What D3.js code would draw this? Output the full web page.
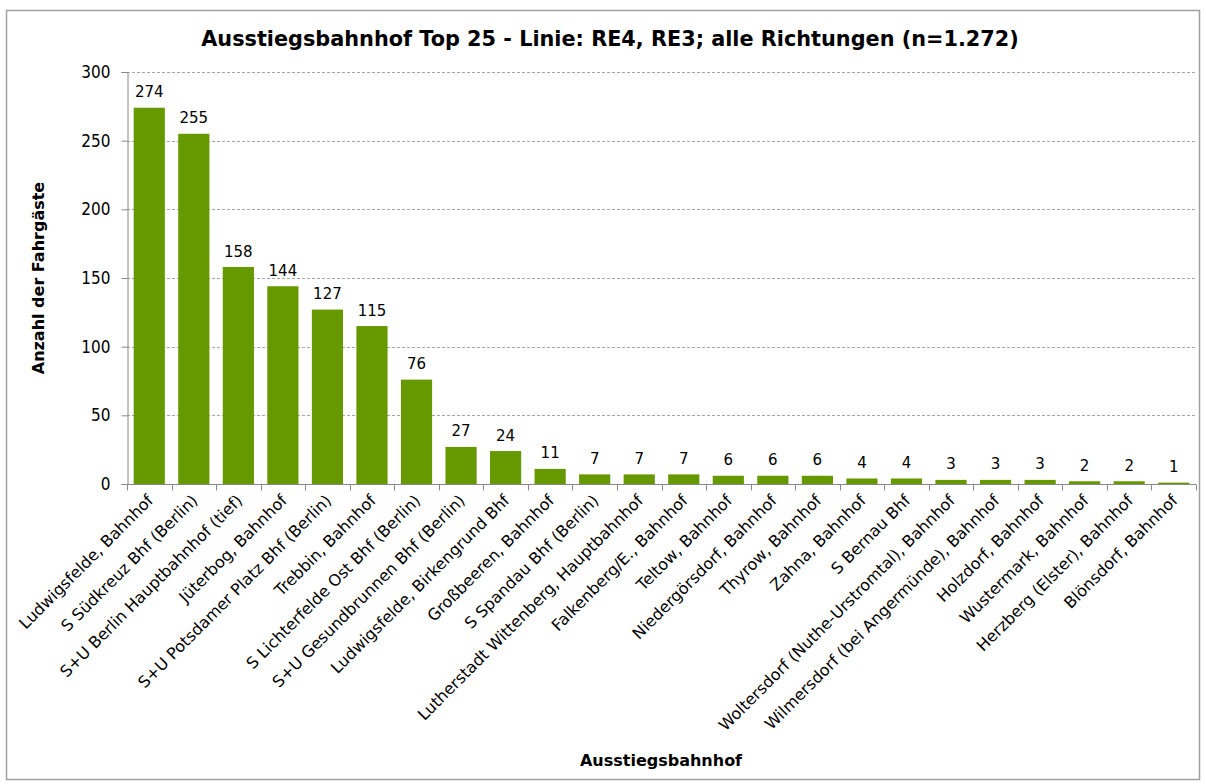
<!DOCTYPE html>
<html>
<head>
<meta charset="utf-8">
<script src="https://cdn.jsdelivr.net/npm/d3@7"></script>
<style>
  body { margin: 0; background: #fff; }
  svg text { font-family: "DejaVu Sans", sans-serif; fill: #000; }
</style>
</head>
<body>
<svg id="chart" width="1206" height="784"></svg>
<script>
const stations = [
  "Ludwigsfelde, Bahnhof", "S Südkreuz Bhf (Berlin)", "S+U Berlin Hauptbahnhof (tief)",
  "Jüterbog, Bahnhof", "S+U Potsdamer Platz Bhf (Berlin)", "Trebbin, Bahnhof",
  "S Lichterfelde Ost Bhf (Berlin)", "S+U Gesundbrunnen Bhf (Berlin)", "Ludwigsfelde, Birkengrund Bhf",
  "Großbeeren, Bahnhof", "S Spandau Bhf (Berlin)", "Lutherstadt Wittenberg, Hauptbahnhof",
  "Falkenberg/E., Bahnhof", "Teltow, Bahnhof", "Niedergörsdorf, Bahnhof",
  "Thyrow, Bahnhof", "Zahna, Bahnhof", "S Bernau Bhf",
  "Woltersdorf (Nuthe-Urstromtal), Bahnhof", "Wilmersdorf (bei Angermünde), Bahnhof", "Holzdorf, Bahnhof",
  "Wustermark, Bahnhof", "Herzberg (Elster), Bahnhof", "Blönsdorf, Bahnhof"
];
const passengers = [274, 255, 158, 144, 127, 115, 76, 27, 24, 11, 7, 7, 7, 6, 6, 6, 4, 4, 3, 3, 3, 2, 2, 1];
const yTicks = [0, 50, 100, 150, 200, 250, 300];

const svg = d3.select("#chart");
const plot = { left: 127, right: 1196, top: 72, bottom: 484 };

// outer border
svg.append("rect")
  .attr("x", 6.5).attr("y", 10.5).attr("width", 1193).attr("height", 769)
  .attr("fill", "none").attr("stroke", "#a0a0a0").attr("stroke-width", 1.5);

const x = d3.scaleBand().domain(stations).range([plot.left, plot.right]).paddingInner(0.3).paddingOuter(0.15);
const y = d3.scaleLinear().domain([0, 300]).range([plot.bottom, plot.top]);

// gridlines
svg.append("g").selectAll("line").data(yTicks.filter(d => d > 0)).join("line")
  .attr("x1", plot.left).attr("x2", plot.right)
  .attr("y1", d => Math.round(y(d)) + 0.5).attr("y2", d => Math.round(y(d)) + 0.5)
  .attr("stroke", "#a6a6a6").attr("stroke-dasharray", "3,2");

// bars
svg.append("g").selectAll("rect").data(passengers).join("rect")
  .attr("x", (d, i) => x(stations[i]))
  .attr("width", x.bandwidth())
  .attr("y", d => y(d))
  .attr("height", d => y(0) - y(d))
  .attr("fill", "#669900");

// value labels
svg.append("g").selectAll("text").data(passengers).join("text")
  .attr("x", (d, i) => x(stations[i]) + x.bandwidth() / 2)
  .attr("y", d => y(d) - 10.5)
  .attr("text-anchor", "middle")
  .style("font-size", "15px")
  .text(d => d);

// y axis
const yAxis = svg.append("g").attr("transform", `translate(${plot.left + 0.5},0)`)
  .call(d3.axisLeft(y).tickValues(yTicks).tickSize(6).tickPadding(11));
yAxis.selectAll("path, line").attr("stroke", "#888");
yAxis.selectAll("text").style("font-size", "17px").style("font-family", "DejaVu Sans Condensed, sans-serif");

// x axis
const xAxis = svg.append("g").attr("transform", `translate(0,${plot.bottom + 0.5})`);
xAxis.append("line").attr("x1", plot.left).attr("x2", plot.right).attr("stroke", "#888");
const bounds = d3.range(stations.length + 1).map(i => plot.left + i * (plot.right - plot.left) / stations.length);
xAxis.selectAll("line.tick").data(bounds).join("line").attr("class", "tick")
  .attr("x1", d => Math.round(d) + 0.5).attr("x2", d => Math.round(d) + 0.5)
  .attr("y1", 0).attr("y2", 6).attr("stroke", "#888");
xAxis.selectAll("text").data(stations).join("text")
  .attr("transform", d => `translate(${x(d) + x.bandwidth() / 2 + 1},13) rotate(-45)`)
  .attr("text-anchor", "end")
  .attr("dy", "0.35em")
  .style("font-size", "16px")
  .text(d => d);

// titles
svg.append("text").attr("x", 610).attr("y", 46).attr("text-anchor", "middle")
  .style("font-size", "20.8px").style("font-weight", "bold")
  .text("Ausstiegsbahnhof Top 25 - Linie: RE4, RE3; alle Richtungen (n=1.272)");
svg.append("text").attr("x", 661).attr("y", 766).attr("text-anchor", "middle")
  .style("font-size", "16px").style("font-weight", "bold")
  .text("Ausstiegsbahnhof");
svg.append("text").attr("transform", "translate(44,278) rotate(-90)").attr("text-anchor", "middle")
  .style("font-size", "16px").style("font-weight", "bold")
  .text("Anzahl der Fahrgäste");
</script>
</body>
</html>
